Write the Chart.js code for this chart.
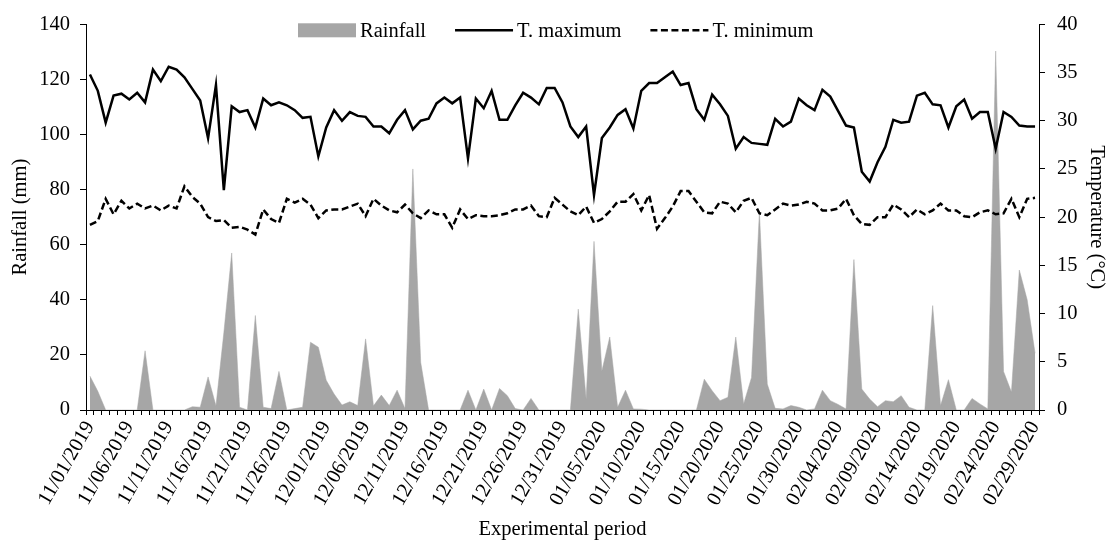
<!DOCTYPE html>
<html>
<head>
<meta charset="utf-8">
<title>Rainfall and temperature</title>
<script src="https://cdn.jsdelivr.net/npm/chart.js@4.4.1/dist/chart.umd.min.js"></script>
<style>
  html, body { margin: 0; padding: 0; background: #fff; }
  canvas { display: block; }
</style>
</head>
<body>
<canvas id="chart-weather" width="1113" height="544"></canvas>
<script>
// ── DATA ──────────────────────────────────────────────────────
const dates = [
  '11/01/2019','11/02/2019','11/03/2019','11/04/2019','11/05/2019','11/06/2019','11/07/2019','11/08/2019','11/09/2019','11/10/2019',
  '11/11/2019','11/12/2019','11/13/2019','11/14/2019','11/15/2019','11/16/2019','11/17/2019','11/18/2019','11/19/2019','11/20/2019',
  '11/21/2019','11/22/2019','11/23/2019','11/24/2019','11/25/2019','11/26/2019','11/27/2019','11/28/2019','11/29/2019','11/30/2019',
  '12/01/2019','12/02/2019','12/03/2019','12/04/2019','12/05/2019','12/06/2019','12/07/2019','12/08/2019','12/09/2019','12/10/2019',
  '12/11/2019','12/12/2019','12/13/2019','12/14/2019','12/15/2019','12/16/2019','12/17/2019','12/18/2019','12/19/2019','12/20/2019',
  '12/21/2019','12/22/2019','12/23/2019','12/24/2019','12/25/2019','12/26/2019','12/27/2019','12/28/2019','12/29/2019','12/30/2019',
  '12/31/2019','01/01/2020','01/02/2020','01/03/2020','01/04/2020','01/05/2020','01/06/2020','01/07/2020','01/08/2020','01/09/2020',
  '01/10/2020','01/11/2020','01/12/2020','01/13/2020','01/14/2020','01/15/2020','01/16/2020','01/17/2020','01/18/2020','01/19/2020',
  '01/20/2020','01/21/2020','01/22/2020','01/23/2020','01/24/2020','01/25/2020','01/26/2020','01/27/2020','01/28/2020','01/29/2020',
  '01/30/2020','01/31/2020','02/01/2020','02/02/2020','02/03/2020','02/04/2020','02/05/2020','02/06/2020','02/07/2020','02/08/2020',
  '02/09/2020','02/10/2020','02/11/2020','02/12/2020','02/13/2020','02/14/2020','02/15/2020','02/16/2020','02/17/2020','02/18/2020',
  '02/19/2020','02/20/2020','02/21/2020','02/22/2020','02/23/2020','02/24/2020','02/25/2020','02/26/2020','02/27/2020','02/28/2020',
  '02/29/2020'
];

// daily rainfall (mm), left axis
const rainfall = [
  12.3, 6.8, 0, 0, 0, 0, 0, 21.5, 0, 0,
  0, 0, 0, 1.2, 1.0, 12, 1.5, 28, 57, 1,
  0, 34.3, 1, 0.5, 14, 0, 0.5, 1, 24.6, 22.8,
  10.8, 5.8, 1.8, 3, 1.6, 25.8, 1.5, 5.4, 1.6, 7.2,
  0.5, 87.5, 17.2, 0, 0, 0, 0, 0, 7.2, 0,
  7.6, 0, 7.8, 5.2, 0.5, 0, 4.2, 0, 0, 0,
  0, 0, 36.6, 4, 61.2, 14.2, 26.5, 1, 7.2, 0.4,
  0.3, 0, 0, 0, 0, 0, 0, 0, 11.2, 7,
  3.4, 4.6, 26.5, 2.2, 11.8, 72, 9.4, 0.6, 0.4, 1.6,
  1, 0, 0.4, 7.2, 3.4, 2, 0.4, 54.6, 7.6, 4,
  1.2, 3.4, 3, 5.2, 1, 0, 0, 37.9, 1.6, 11,
  0, 0, 4.2, 2.2, 0.4, 130.3, 14, 6.5, 50.8, 40,
  20.6
];

// maximum temperature (°C), right axis
const tMax = [
  34.8, 33.1, 29.8, 32.6, 32.8, 32.2, 32.9, 31.9, 35.3, 34.1,
  35.6, 35.3, 34.5, 33.3, 32.1, 28.2, 33.7, 22.8, 31.5, 30.9,
  31.1, 29.3, 32.3, 31.6, 31.9, 31.6, 31.1, 30.3, 30.4, 26.3,
  29.3, 31.1, 30.0, 30.9, 30.5, 30.4, 29.4, 29.4, 28.7, 30.1,
  31.1, 29.1, 30.0, 30.2, 31.8, 32.4, 31.8, 32.4, 26.1, 32.3,
  31.3, 33.1, 30.1, 30.1, 31.6, 32.9, 32.4, 31.7, 33.4, 33.4,
  31.9, 29.4, 28.3, 29.4, 22.3, 28.2, 29.3, 30.6, 31.2, 29.2,
  33.1, 33.9, 33.9, 34.5, 35.1, 33.7, 33.9, 31.2, 30.1, 32.7,
  31.7, 30.5, 27.1, 28.3, 27.7, 27.6, 27.5, 30.2, 29.4, 29.9,
  32.3, 31.6, 31.1, 33.2, 32.5, 31.0, 29.5, 29.3, 24.7, 23.7,
  25.7, 27.3, 30.1, 29.8, 29.9, 32.6, 32.9, 31.7, 31.6, 29.3,
  31.5, 32.2, 30.2, 30.9, 30.9, 27.1, 30.9, 30.4, 29.5, 29.4,
  29.4
];

// minimum temperature (°C), right axis
const tMin = [
  19.2, 19.6, 21.9, 20.3, 21.7, 20.9, 21.4, 20.9, 21.2, 20.7,
  21.2, 20.9, 23.2, 22.1, 21.4, 20.0, 19.6, 19.7, 18.9, 19.0,
  18.7, 18.2, 20.8, 19.8, 19.4, 21.9, 21.5, 21.9, 21.3, 19.9,
  20.7, 20.8, 20.8, 21.1, 21.4, 20.1, 21.9, 21.2, 20.7, 20.5,
  21.3, 20.4, 19.9, 20.7, 20.3, 20.3, 18.9, 20.8, 19.8, 20.2,
  20.1, 20.1, 20.2, 20.4, 20.8, 20.8, 21.2, 20.1, 20.0, 22.0,
  21.3, 20.6, 20.2, 21.1, 19.4, 19.8, 20.6, 21.6, 21.6, 22.4,
  20.7, 22.3, 18.8, 19.9, 21.1, 22.7, 22.7, 21.6, 20.5, 20.4,
  21.6, 21.4, 20.5, 21.7, 22.0, 20.4, 20.2, 20.8, 21.4, 21.2,
  21.3, 21.6, 21.4, 20.7, 20.7, 20.9, 21.9, 20.2, 19.3, 19.2,
  20.0, 20.0, 21.3, 20.8, 20.0, 20.8, 20.3, 20.7, 21.4, 20.7,
  20.7, 20.1, 20.0, 20.5, 20.7, 20.3, 20.4, 21.9, 20.0, 21.9,
  22.0
];

const LABEL_EVERY = 5;

// ── STYLE ─────────────────────────────────────────────────────
const FONT_FAMILY = '"Liberation Serif", "Times New Roman", Times, serif';
const FONT = { family: FONT_FAMILY, size: 20.5 };
const INK  = '#000000';
const GREY = '#a6a6a6';

// legend sits inside the plot, along its top edge
const insideLegend = {
  id: 'insideLegend',
  afterDraw(chart) {
    const { ctx, chartArea } = chart;
    const sample = 58, gap = 4, spacing = 29;
    ctx.save();
    ctx.font = FONT.size + 'px ' + FONT_FAMILY;
    ctx.textBaseline = 'middle';
    const y = chartArea.top + 6;
    let x = chartArea.left + 212;
    chart.data.datasets.forEach(ds => {
      if (ds.fill) {
        ctx.fillStyle = ds.backgroundColor;
        ctx.fillRect(x, y - 7, sample, 14);
      } else {
        ctx.strokeStyle = ds.borderColor;
        ctx.lineWidth = ds.borderWidth;
        ctx.setLineDash(ds.borderDash || []);
        ctx.beginPath();
        ctx.moveTo(x, y);
        ctx.lineTo(x + sample, y);
        ctx.stroke();
        ctx.setLineDash([]);
      }
      ctx.fillStyle = INK;
      ctx.fillText(ds.label, x + sample + gap, y + 1);
      x += sample + gap + ctx.measureText(ds.label).width + spacing;
    });
    ctx.restore();
  }
};

// ── CHART ─────────────────────────────────────────────────────
const ctx = document.getElementById('chart-weather').getContext('2d');
new Chart(ctx, {
  type: 'line',
  data: {
    labels: dates,
    datasets: [
      {
        label: 'Rainfall',
        data: rainfall,
        yAxisID: 'yRain',
        fill: 'origin',
        backgroundColor: GREY,
        borderColor: GREY,
        borderWidth: 0.5,
        pointRadius: 0,
        tension: 0,
        order: 3,
      },
      {
        label: 'T. maximum',
        data: tMax,
        yAxisID: 'yTemp',
        fill: false,
        borderColor: INK,
        borderWidth: 2.5,
        pointRadius: 0,
        tension: 0,
        order: 1,
      },
      {
        label: 'T. minimum',
        data: tMin,
        yAxisID: 'yTemp',
        fill: false,
        borderColor: INK,
        borderWidth: 2.5,
        borderDash: [7, 3.5],
        pointRadius: 0,
        tension: 0,
        order: 2,
      },
    ],
  },
  options: {
    responsive: false,
    animation: false,
    layout: { padding: { top: 22, left: 0, right: 0, bottom: 0 } },
    plugins: {
      legend:  { display: false },
      tooltip: { enabled: false },
    },
    scales: {
      x: {
        offset: true,
        grid: { display: true, drawOnChartArea: false, offset: true, tickLength: 5, tickColor: INK, color: INK },
        border: { display: true, color: INK, width: 1 },
        ticks: {
          autoSkip: false, minRotation: 60, maxRotation: 60, padding: 2,
          color: INK, font: FONT,
          callback: (v, i) => i % LABEL_EVERY === 0 ? dates[i] : '',
        },
        title: { display: true, text: 'Experimental period', color: INK, font: FONT, padding: { top: 0, bottom: 2 } },
        afterFit: s => { s.height = 134; },
      },
      yRain: {
        position: 'left',
        min: 0, max: 140,
        grid: { display: true, drawOnChartArea: false, tickLength: 6, tickColor: INK },
        border: { display: true, color: INK, width: 1 },
        ticks: { stepSize: 20, padding: 10, color: INK, font: FONT },
        title: { display: true, text: 'Rainfall (mm)', color: INK, font: FONT, padding: { top: 8, bottom: 0 } },
        afterFit: s => { s.width = 86; },
      },
      yTemp: {
        position: 'right',
        min: 0, max: 40,
        grid: { display: true, drawOnChartArea: false, tickLength: 6, tickColor: INK },
        border: { display: true, color: INK, width: 1 },
        ticks: { stepSize: 5, padding: 12, color: INK, font: FONT },
        title: { display: true, text: 'Temperature (°C)', color: INK, font: FONT, padding: { top: 4, bottom: 0 } },
        afterFit: s => { s.width = 74; },
      },
    },
  },
  plugins: [insideLegend],
});
</script>
</body>
</html>
